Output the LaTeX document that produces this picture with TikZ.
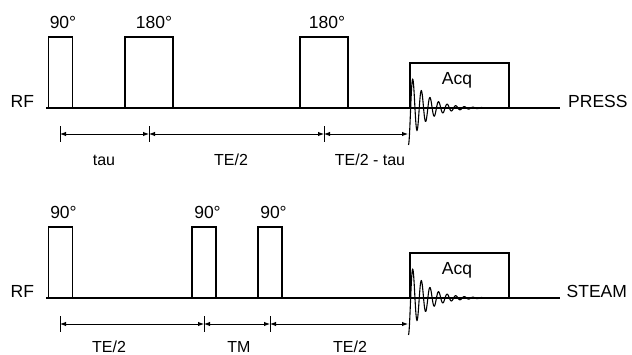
\documentclass[tikz,border=0pt]{standalone}
\usepackage{fontspec}
\setmainfont{Liberation Sans}
\usetikzlibrary{arrows.meta}
\begin{document}
\begin{tikzpicture}[x=1pt,y=-1pt,
  pulse/.style={draw,line width=1.1pt,fill=white,inner sep=0pt,outer sep=0pt,anchor=south west},
  acqbox/.style={draw,line width=1.1pt,inner sep=0pt,outer sep=0pt,anchor=south west,minimum width=99pt,minimum height=45pt},
  lbl/.style={font=\fontsize{17.5}{20}\selectfont,inner sep=0pt,anchor=base},
  ilbl/.style={font=\fontsize{16}{19}\selectfont,inner sep=0pt,anchor=base},
  base/.style={line width=1.1pt},
  interval/.style={line width=0.9pt,{Latex[length=6pt,width=4.5pt]}-{Latex[length=6pt,width=4.5pt]}},
  tick/.style={line width=0.9pt},
  fid/.style={line width=1.1pt}
]
\useasboundingbox (0,0) rectangle (632,355);

% ================= PRESS =================
\coordinate (b1s) at (46,108);
\coordinate (b1e) at (560,108);
\draw[base] (b1s) -- (b1e);
\node[pulse,minimum width=24pt,minimum height=71pt] (p1) at (48.5,108) {};
\node[pulse,minimum width=48pt,minimum height=71pt] (p2) at (125,108) {};
\node[pulse,minimum width=48pt,minimum height=71pt] (p3) at (300,108) {};
\node[acqbox] (a1) at (410,108) {};
\node[lbl] (l90a) at (63,29) {90°};
\node[lbl] (l180a) at (154,29) {180°};
\node[lbl] (l180b) at (327,29) {180°};
\node[lbl] (acq1) at (457,85) {Acq};
\node[lbl,anchor=base west] (rf1) at (10.5,108) {RF};
\node[lbl,anchor=base west] (press) at (568,108) {PRESS};
\draw[fid] plot[smooth,samples=320,domain=0:82] ({408.5+\x},{108+37*exp(-\x/17)*cos(\x*180/4.3)});

\coordinate (t1) at (60,134);
\coordinate (t2) at (149,134);
\coordinate (t3) at (324,134);
\coordinate (t4) at (408,134);
\foreach \c in {t1,t2,t3}{\draw[tick] ([yshift=-8pt]\c) -- ([yshift=8pt]\c);}
\draw[interval] (t1) -- (t2);
\draw[interval] (t2) -- (t3);
\draw[interval] (t3) -- (t4);
\node[ilbl] (tau) at (104,165.5) {tau};
\node[ilbl] (te1) at (231,165.5) {TE/2};
\node[ilbl] (te2) at (370,165.5) {TE/2 - tau};

% ================= STEAM =================
\coordinate (b2s) at (46,298);
\coordinate (b2e) at (560,298);
\draw[base] (b2s) -- (b2e);
\node[pulse,minimum width=24pt,minimum height=71pt] (s1) at (48.5,298) {};
\node[pulse,minimum width=24pt,minimum height=71pt] (s2) at (192,298) {};
\node[pulse,minimum width=24pt,minimum height=71pt] (s3) at (258,298) {};
\node[acqbox] (a2) at (410,298) {};
\node[lbl] (l90b) at (63.5,218.5) {90°};
\node[lbl] (l90c) at (207.5,218.5) {90°};
\node[lbl] (l90d) at (273.5,218.5) {90°};
\node[lbl] (acq2) at (457,275) {Acq};
\node[lbl,anchor=base west] (rf2) at (10.5,298) {RF};
\node[lbl,anchor=base west] (steam) at (566.5,298) {STEAM};
\draw[fid] plot[smooth,samples=320,domain=0:82] ({408.5+\x},{298+37*exp(-\x/17)*cos(\x*180/4.3)});

\coordinate (u1) at (60,324);
\coordinate (u2) at (204,324);
\coordinate (u3) at (270,324);
\coordinate (u4) at (408,324);
\foreach \c in {u1,u2,u3}{\draw[tick] ([yshift=-8pt]\c) -- ([yshift=8pt]\c);}
\draw[interval] (u1) -- (u2);
\draw[interval] (u2) -- (u3);
\draw[interval] (u3) -- (u4);
\node[ilbl] (te3) at (109,352.5) {TE/2};
\node[ilbl] (tm) at (239,352.5) {TM};
\node[ilbl] (te4) at (350,352.5) {TE/2};
\end{tikzpicture}
\end{document}
